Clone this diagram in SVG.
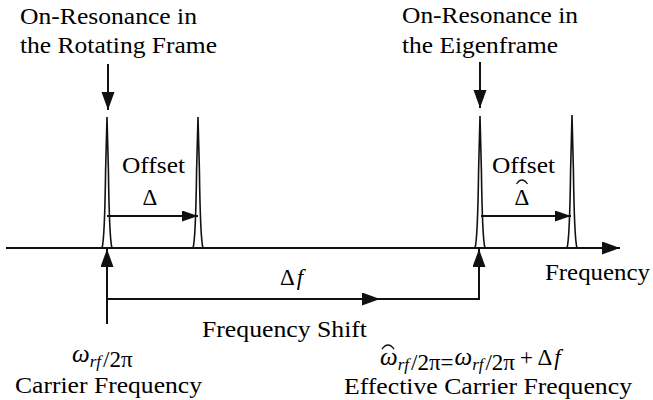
<svg xmlns="http://www.w3.org/2000/svg" width="653" height="400" viewBox="0 0 653 400">
<defs>
<marker id="ah" markerUnits="userSpaceOnUse" markerWidth="20" markerHeight="14" refX="18" refY="6.5" orient="auto">
<path d="M0,0 L18,6.5 L0,13 Z" fill="#111"/>
</marker>
<marker id="ahs" markerUnits="userSpaceOnUse" markerWidth="18" markerHeight="12" refX="16" refY="5.5" orient="auto">
<path d="M0,0 L16,5.5 L0,11 Z" fill="#111"/>
</marker>
</defs>
<line stroke="#111" stroke-width="2" x1="6" y1="248" x2="620" y2="248" marker-end="url(#ah)"/>
<path stroke="#111" stroke-width="1.6" fill="none" d="M102,248 C104.5,240 105,215 105.6,170 L107,117 L108.4,170 C109,215 109.5,240 112,248"/>
<path stroke="#111" stroke-width="1.6" fill="none" d="M193,248 C195.5,240 196,215 196.6,170 L198,117 L199.4,170 C200,215 200.5,240 203,248"/>
<path stroke="#111" stroke-width="1.6" fill="none" d="M475,248 C477.5,240 478,215 478.6,170 L480,116 L481.4,170 C482,215 482.5,240 485,248"/>
<path stroke="#111" stroke-width="1.6" fill="none" d="M567,248 C569.5,240 570,215 570.6,170 L572,115 L573.4,170 C574,215 574.5,240 577,248"/>
<text font-family="Liberation Serif" font-size="23" x="545" y="280" textLength="105" lengthAdjust="spacingAndGlyphs">Frequency</text>
<text font-family="Liberation Serif" font-size="23" x="20" y="24" textLength="177" lengthAdjust="spacingAndGlyphs">On-Resonance in</text>
<text font-family="Liberation Serif" font-size="23" x="20" y="53" textLength="197" lengthAdjust="spacingAndGlyphs">the Rotating Frame</text>
<text font-family="Liberation Serif" font-size="23" x="402" y="23" textLength="176" lengthAdjust="spacingAndGlyphs">On-Resonance in</text>
<text font-family="Liberation Serif" font-size="23" x="402" y="53" textLength="156" lengthAdjust="spacingAndGlyphs">the Eigenframe</text>
<text font-family="Liberation Serif" font-size="23" x="122" y="173" textLength="63" lengthAdjust="spacingAndGlyphs">Offset</text>
<text font-family="Liberation Serif" font-size="23" x="150" y="205" text-anchor="middle">Δ</text>
<text font-family="Liberation Serif" font-size="23" x="492" y="173" textLength="63" lengthAdjust="spacingAndGlyphs">Offset</text>
<text font-family="Liberation Serif" font-size="23" x="522" y="205" text-anchor="middle">Δ</text>
<path stroke="#111" stroke-width="1.3" fill="none" d="M516.5,184 Q522,176 527.5,184"/>
<text font-family="Liberation Serif" font-size="23" x="280" y="285">Δ<tspan font-style="italic" dx="2">f</tspan></text>
<text font-family="Liberation Serif" font-size="23" x="202" y="337" textLength="165" lengthAdjust="spacingAndGlyphs">Frequency Shift</text>
<text font-family="Liberation Serif" font-size="23" x="72" y="362"><tspan font-style="italic" font-size="25">ω</tspan><tspan font-style="italic" font-size="17" dy="5">rf</tspan><tspan dx="2">/2π</tspan></text>
<text font-family="Liberation Serif" font-size="23" x="15" y="393" textLength="187" lengthAdjust="spacingAndGlyphs">Carrier Frequency</text>
<text font-family="Liberation Serif" font-size="23" x="380" y="365"><tspan font-style="italic" font-size="25">ω</tspan><tspan font-style="italic" font-size="17" dy="5">rf</tspan><tspan dx="2">/2π=</tspan><tspan font-style="italic" font-size="25" dy="-5" dx="1">ω</tspan><tspan font-style="italic" font-size="17" dy="5">rf</tspan><tspan dx="2">/2π</tspan><tspan dy="-5" dx="5">+ Δ</tspan><tspan font-style="italic" dx="2">f</tspan></text>
<path stroke="#111" stroke-width="1.3" fill="none" d="M382,349 Q388,341 394,349"/>
<text font-family="Liberation Serif" font-size="23" x="344" y="394" textLength="288" lengthAdjust="spacingAndGlyphs">Effective Carrier Frequency</text>
<g id="connectors" stroke="#111" stroke-width="2" fill="none">
<line x1="108" y1="64" x2="108" y2="110" marker-end="url(#ah)"/>
<line x1="480" y1="62" x2="480" y2="108" marker-end="url(#ah)"/>
<line x1="107" y1="216" x2="198" y2="216" marker-end="url(#ahs)"/>
<line x1="481" y1="216" x2="571" y2="216" marker-end="url(#ahs)"/>
<line x1="107" y1="324" x2="107" y2="249" marker-end="url(#ah)"/>
<line x1="107" y1="299" x2="380" y2="299" marker-end="url(#ah)"/>
<polyline points="378,299 479,299 479,249" marker-end="url(#ah)"/>
</g>
</svg>
